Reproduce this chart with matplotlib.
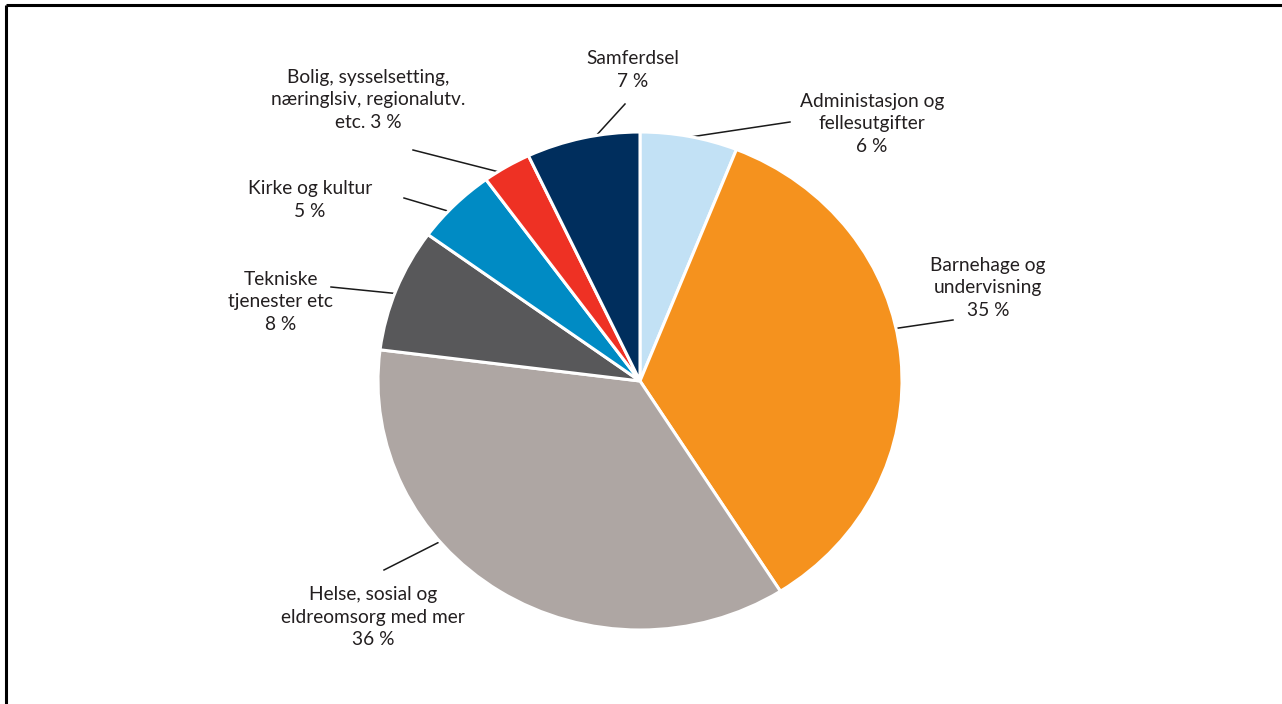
import numpy as np
import matplotlib
matplotlib.use("Agg")
import matplotlib.pyplot as plt
from matplotlib.patches import Wedge
from matplotlib.lines import Line2D

# Shares of spending by sector (percent), clockwise from 12 o'clock
labels = [
    "Administasjon og\nfellesutgifter\n6 %",
    "Barnehage og\nundervisning\n35 %",
    "Helse, sosial og\neldreomsorg med mer\n36 %",
    "Tekniske\ntjenester etc\n8 %",
    "Kirke og kultur\n5 %",
    "Bolig, sysselsetting,\nnæringlsiv, regionalutv.\netc. 3 %",
    "Samferdsel\n7 %",
]
values = [6, 35, 36, 8, 5, 3, 7]
colors = ["#C2E1F5", "#F5921E", "#AEA6A3", "#58585A", "#008BC4", "#EE3124", "#002E5D"]

# Layout (pixels): figure size, pie centre and radii
W, H = 1282, 704
CX, CY = 640, 381
RX, RY = 262, 249

# Leader line: angle on the rim (deg clockwise from top), outer end, label centre
leader_angle = [11.3, 77.8, 229.8, 290.6, 313.0, 327.2, 350.4]
leader_end = [(790, 122), (953, 320), (384, 570), (331, 287), (404, 198), (413, 150), (625, 104)]
label_pos = [(872, 124), (988, 288), (373, 617), (281, 302), (310, 200), (368, 100), (633, 70)]

fig = plt.figure(figsize=(W / 100, H / 100), dpi=100)
ax = fig.add_axes([0, 0, 1, 1])
ax.set_xlim(0, W)
ax.set_ylim(H, 0)
ax.axis("off")

# Wedges drawn in unit space then stretched to the elliptical radii
pie_ax = fig.add_axes([(CX - RX) / W, 1 - (CY + RY) / H, 2 * RX / W, 2 * RY / H])
pie_ax.set_xlim(-1, 1)
pie_ax.set_ylim(-1, 1)
pie_ax.set_aspect("auto")
pie_ax.axis("off")

total = float(sum(values))
start = 90.0
for v, c in zip(values, colors):
    sweep = 360.0 * v / total
    w = Wedge((0, 0), 1.0, start - sweep, start, facecolor=c,
              edgecolor="white", linewidth=2.2)
    pie_ax.add_patch(w)
    start -= sweep

font = ["Lato", "DejaVu Sans"]
for lab, ang, end, pos in zip(labels, leader_angle, leader_end, label_pos):
    a = np.deg2rad(ang)
    sx = CX + RX * np.sin(a)
    sy = CY - RY * np.cos(a)
    ax.add_line(Line2D([sx, end[0]], [sy, end[1]], color="#1a1a1a", linewidth=1.1))
    ax.text(pos[0], pos[1], lab, ha="center", va="center", fontsize=13.8,
            family=font, color="#231F20", linespacing=1.42)

# Frame along the top and left edges
ax.add_line(Line2D([6, W], [5, 5], color="black", linewidth=2.2, solid_capstyle="butt"))
ax.add_line(Line2D([6, 6], [5, H], color="black", linewidth=2.2, solid_capstyle="butt"))

fig.savefig("out.png", dpi=100, facecolor="white")
